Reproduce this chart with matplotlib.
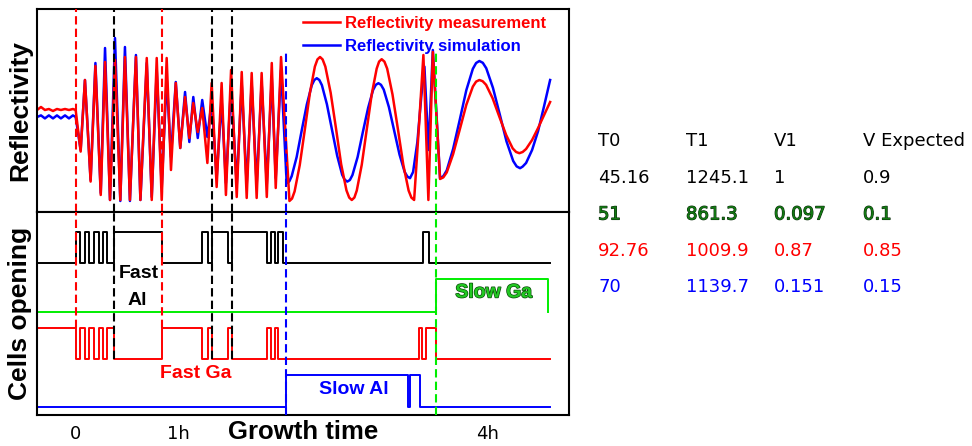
import matplotlib.pyplot as plt
import matplotlib.patheffects as pe
import numpy as np

# reflectivity traces: time in minutes from growth start, reflectivity in a.u.
meas_t = [-22.5, -20.2, -17.9, -15.6, -13.2, -10.9, -8.6, -6.2, -3.9, -1.6, 0,
          2.9, 5.4, 8.7, 11.5, 14.6, 17.1, 20.0, 22.9, 26.0, 28.7, 31.6, 35.1, 37.7, 41.4,
          44.3, 47.2, 50.1, 53.0, 55.5, 58.3, 60.9, 63.7, 66.2, 68.5, 71.1, 73.7, 76.7,
          79.2, 82.1, 85.0, 87.5, 90.5, 93.8, 96.7, 99.6, 102.5, 105.4, 108.3, 111.3,
          114.2, 116.5, 119.6, 124.5,
          126.0, 127.5, 130.5, 133.5, 136.4, 139.3, 140.8, 142.3,
          143.8, 145.4, 148.5, 151.6, 154.6, 157.7, 159.3, 160.8,
          162.3, 163.7, 166.6, 169.5, 172.4, 175.3, 176.7, 178.2,
          179.8, 181.4, 184.5, 187.7, 190.8, 193.9, 195.5, 197.1,
          200.0, 202.5, 205.4, 208.0, 212.2,
          214.1, 216.1, 219.8, 223.7, 227.5, 231.3, 233.2, 235.1,
          237.0, 239.0, 242.8, 246.7, 250.7, 254.5, 256.5, 258.4,
          260.3, 262.3, 265.8, 269.3, 272.8, 276.3]
meas_r = [51, 52.5, 51, 51.5, 50.5, 51.5, 51, 51.5, 51, 51.5, 51,
          30.2, 66, 15.2, 73, 8.5, 75, 6, 76, 6, 77.5, 6, 77.5, 6, 77,
          6, 77, 6, 77, 21, 64.5, 32, 57.5, 37, 54.5, 40, 52, 24.5,
          64.5, 12.5, 64.5, 8.5, 71, 7.5, 70, 7, 69.5, 7, 69.5, 7.5,
          74.5, 12, 77.5, 5.5,
          6.7, 10.3, 23.5, 41.5, 59.5, 72.7, 76.3, 77.5,
          76.3, 72.7, 59.6, 41.8, 23.9, 10.8, 7.2, 6,
          7.2, 10.7, 23.6, 41.2, 58.8, 71.7, 75.2, 76.4,
          75.2, 71.7, 58.8, 41.2, 23.6, 10.7, 7.2, 6,
          44, 78.5, 6, 80, 16.5,
          17.3, 19.8, 28.9, 41.3, 53.6, 62.7, 65.2, 66,
          65.4, 63.6, 56.9, 47.7, 38.5, 31.8, 30.0, 29.4,
          30.0, 31.5, 36, 42, 48.5, 55]

sim_t = [-22.5, -20.2, -17.9, -15.6, -13.2, -10.9, -8.6, -6.2, -3.9, -1.6, 0,
         2.9, 5.4, 8.7, 11.5, 14.6, 17.1, 20.0, 22.9, 26.0, 28.7, 31.6, 35.1, 37.7, 41.4,
         44.3, 47.2, 50.1, 53.0, 55.5, 58.3, 60.9, 63.7, 66.2, 68.5, 71.1, 73.7, 76.7,
         79.2, 82.1, 85.0, 87.5, 90.5, 93.8, 96.7, 99.6, 102.5, 105.4, 108.3, 111.3,
         114.2, 116.5, 119.6, 122.9,
         124.4, 125.8, 128.7, 131.6, 134.6, 137.5, 139.0, 140.4,
         141.9, 143.4, 146.3, 149.3, 152.3, 155.2, 156.7, 158.2,
         159.7, 161.2, 164.2, 167.2, 170.3, 173.2, 174.8, 176.3,
         177.8, 179.4, 182.4, 185.5, 188.6, 191.6, 193.2, 194.7,
         196.5, 199.0, 201.3, 203.1, 205.5, 208.0, 212.2,
         214.1, 216.1, 219.8, 223.7, 227.5, 231.3, 233.2, 235.1,
         237.1, 239.1, 243.0, 247.0, 250.9, 254.8, 256.8, 258.8,
         260.3, 262.3, 265.8, 269.3, 272.8, 276.3]
sim_r = [47.5, 48.3, 46.8, 48.3, 46.8, 48.3, 46.8, 48.3, 46.8, 48.3, 47.5,
         31, 66, 16, 74.5, 9.5, 82, 6, 87, 5.5, 82.5, 5.5, 78.5, 6, 74.5,
         7.5, 71, 12.5, 67, 27.5, 65, 32, 60, 35, 57.5, 37, 56, 37.5,
         55.5, 17, 56, 14.5, 63.5, 13.5, 64, 13.5, 64, 13.5, 64.5, 14,
         67, 17, 71, 14.4,
         15.3, 17.9, 27.5, 40.6, 53.7, 63.4, 66.0, 66.9,
         66.0, 63.4, 53.9, 41, 28.1, 18.6, 16.1, 15.2,
         16.0, 18.5, 27.5, 39.8, 52, 61, 63.6, 64.4,
         63.6, 61.2, 52.5, 40.6, 28.7, 20, 17.7, 16.9,
         20, 35, 58, 72.7, 31, 81, 16.9,
         17.9, 20.8, 31.5, 46.2, 60.9, 71.6, 74.5, 75.5,
         74.6, 71.9, 62.1, 48.7, 35.3, 25.5, 22.8, 21.9,
         22.7, 24.5, 31, 40.5, 53, 66]

# shutter toggle times (minutes)
fast_al_toggles = [0, 2.8, 5.4, 8.0, 10.7, 13.3, 15.9, 18.5, 22.3, 50.3, 73.7, 77.1,
                   79.2, 88.9, 90.9, 111.3, 113.8, 115.8, 117.8, 120.7, 202.1, 206.0]
fast_ga_toggles = [0, 2.8, 5.4, 8.0, 10.7, 13.3, 15.9, 18.5, 22.3, 50.3, 73.7, 77.1,
                   79.2, 88.9, 90.9, 111.3, 113.8, 115.8, 117.8, 200.1, 201.7, 204.3, 209.9]
slow_al_toggles = [122.5, 193.7, 194.7, 200.6]
slow_ga_toggles = [209.9, 275.1]

red_marks = [0, 50.3]
black_marks = [22.3, 79.2, 90.9]
blue_mark = 122.5
green_mark = 209.9

tick_pos = [0, 60, 240]
tick_labels = ['0', '1h', '4h']

table_header = ['T0', 'T1', 'V1', 'V Expected']
table_rows = [['45.16', '1245.1', '1', '0.9'],
              ['51', '861.3', '0.097', '0.1'],
              ['92.76', '1009.9', '0.87', '0.85'],
              ['70', '1139.7', '0.151', '0.15']]
row_colors = ['black', '#137a13', '#ff0000', '#0000ff']

t_left, t_right, t_end = -22.5, 287.3, 276.3


def shutter(toggles, start, t_last=t_end):
    ts = [t_left] + list(toggles) + [t_last]
    st = [start]
    s = start
    for _ in toggles:
        s = 1 - s
        st.append(s)
    st.append(s)
    return ts, np.array(st)


bold = dict(family='Liberation Sans', fontweight='bold')

fig = plt.figure(figsize=(9.72, 4.46), dpi=100)
ax1 = fig.add_axes([0.0381, 0.5247, 0.5473, 0.4551])
ax2 = fig.add_axes([0.0381, 0.0695, 0.5473, 0.4552])
dash = (0, (4, 2))

# top: reflectivity
ax1.plot(sim_t, sim_r, color='#0000ff', lw=1.8, label='Reflectivity simulation')
ax1.plot(meas_t, meas_r, color='#ff0000', lw=1.8, label='Reflectivity measurement')
ax1.vlines(red_marks, 0, 101.5, colors='#ff0000', linestyles=[dash], lw=1.5, zorder=3)
ax1.vlines(black_marks, 0, 101.5, colors='black', linestyles=[dash], lw=1.5, zorder=3)
ax1.vlines([blue_mark], 0, 81, colors='#0000ff', linestyles=[dash], lw=1.5, zorder=3)
ax1.vlines([green_mark], 0, 80, colors='#00ee00', linestyles=[dash], lw=1.5, zorder=3)
ax1.set_ylim(0, 101.5)
h, l = ax1.get_legend_handles_labels()
ax1.legend(h[::-1], l[::-1], loc='upper left', bbox_to_anchor=(0.5, 0.965), frameon=False,
           borderpad=0, borderaxespad=0, handlelength=2.2, handletextpad=0.3,
           labelspacing=0.45, labelcolor='linecolor',
           prop=dict(family='Liberation Sans', weight='bold', size=12))
ax1.text(-0.032, 0.5, 'Reflectivity', transform=ax1.transAxes, rotation=90,
         ha='center', va='center', fontsize=19, **bold)

# bottom: cells opening
x, s = shutter(fast_al_toggles, 0)
ax2.plot(x, 152 + 31 * s, color='black', lw=1.4, drawstyle='steps-post')
x, s = shutter(slow_ga_toggles, 0, t_last=275.1)
ax2.plot(x, 103 + 33 * s, color='#00ee00', lw=1.4, drawstyle='steps-post')
x, s = shutter(fast_ga_toggles, 1)
ax2.plot(x, 56 + 31 * s, color='#ff0000', lw=1.4, drawstyle='steps-post')
x, s = shutter(slow_al_toggles, 0)
ax2.plot(x, 8 + 32 * s, color='#0000ff', lw=1.4, drawstyle='steps-post')

ax2.vlines(red_marks, 87, 203, colors='#ff0000', linestyles=[dash], lw=1.5, zorder=3)
ax2.vlines(black_marks, 56, 203, colors='black', linestyles=[dash], lw=1.5, zorder=3)
ax2.vlines([blue_mark], 0, 203, colors='#0000ff', linestyles=[dash], lw=1.5, zorder=3)
ax2.vlines([green_mark], 0, 203, colors='#00ee00', linestyles=[dash], lw=1.5, zorder=3)
ax2.set_ylim(0, 203)

ax2.text(36.5, 141, 'Fast', ha='center', va='center', fontsize=14, color='black', **bold)
ax2.text(36, 114, 'Al', ha='center', va='center', fontsize=14, color='black', **bold)
ax2.text(70, 41, 'Fast Ga', ha='center', va='center', fontsize=14, color='#ff0000', **bold)
ax2.text(162, 26, 'Slow Al', ha='center', va='center', fontsize=14, color='#0000ff', **bold)
ax2.text(243.5, 122, 'Slow Ga', ha='center', va='center', fontsize=14, color='#22c822',
         path_effects=[pe.withStroke(linewidth=1.0, foreground='#0b4a0b')], **bold)
ax2.text(-0.032, 0.5, 'Cells opening', transform=ax2.transAxes, rotation=90,
         ha='center', va='center', fontsize=19, **bold)
ax2.text(0.5, -0.085, 'Growth time', transform=ax2.transAxes, ha='center', va='center',
         fontsize=18.5, **bold)

for ax in (ax1, ax2):
    ax.set_xlim(t_left, t_right)
    ax.set_yticks([])
    for sp in ax.spines.values():
        sp.set_linewidth(1.5)
ax1.set_xticks([])
ax2.set_xticks(tick_pos)
ax2.set_xticklabels(tick_labels, fontsize=13, family='DejaVu Sans')
ax2.tick_params(axis='x', length=0, pad=7)

# parameter table
col_x = [598, 686, 774, 863]
row_y = [141.5, 178, 214.5, 251, 287]
for cx, txt in zip(col_x, table_header):
    fig.text(cx / 972, 1 - row_y[0] / 446, txt, ha='left', va='center',
             fontsize=13, family='DejaVu Sans', color='black')
for i, (row, c) in enumerate(zip(table_rows, row_colors)):
    for cx, txt in zip(col_x, row):
        kw = {}
        if i == 1:
            kw['path_effects'] = [pe.withStroke(linewidth=0.8, foreground='#0a2a0a')]
        fig.text(cx / 972, 1 - row_y[i + 1] / 446, txt, ha='left', va='center',
                 fontsize=13, family='DejaVu Sans', color=c, **kw)

fig.savefig('out.png', dpi=100)
